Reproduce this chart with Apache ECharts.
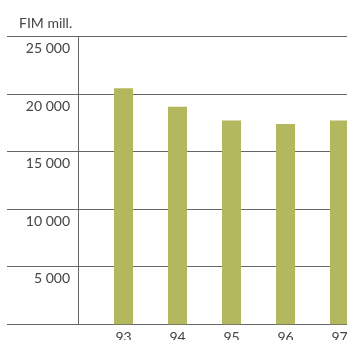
<!DOCTYPE html>
<html><head><meta charset="utf-8">
<script src="https://cdn.jsdelivr.net/npm/echarts@6/dist/echarts.min.js"></script>
<style>html,body{margin:0;padding:0;background:#fff}#c{width:347px;height:340px}</style>
</head><body><div id="c"></div>
<script>
const categories = ['93', '94', '95', '96', '97'];
const values = [20500, 18900, 17700, 17400, 17700];
const yTicks = [0, 5000, 10000, 15000, 20000, 25000];
const unitLabel = 'FIM mill.';

const font = 'Lato, "Open Sans", sans-serif';
const chart = echarts.init(document.getElementById('c'), null, {renderer: 'canvas'});
const fmt = v => v === 0 ? '' : String(v).replace(/\B(?=(\d{3})+(?!\d))/g, ' ');
chart.setOption({
  animation: false,
  title: {text: unitLabel, left: 14, top: 11, textStyle: {fontFamily: font, fontSize: 14, fontWeight: 'normal', color: '#444'}},
  grid: [
    {left: 7, width: 340, top: 36.5, height: 287.8, outerBoundsMode: 'none', containLabel: false},
    {left: 96.5, width: 270, top: 36.5, height: 287.8, outerBoundsMode: 'none', containLabel: false}
  ],
  xAxis: [
    {gridIndex: 0, type: 'value', show: false, min: 0, max: 1},
    {gridIndex: 1, type: 'category', data: categories, axisLine: {show: false}, axisTick: {show: false},
     axisLabel: {margin: 6, fontFamily: font, fontSize: 14, color: '#444'}}
  ],
  yAxis: [
    {gridIndex: 0, type: 'value', min: yTicks[0], max: yTicks[yTicks.length - 1], interval: yTicks[1] - yTicks[0],
     offset: -71,
     axisLine: {show: true, lineStyle: {color: '#666', width: 1}},
     axisTick: {show: false},
     splitLine: {show: true, lineStyle: {color: '#666', width: 1}},
     axisLabel: {margin: 8, formatter: fmt, verticalAlign: 'top', padding: [5, 0, 0, 0], fontFamily: font, fontSize: 14, color: '#444'}},
    {gridIndex: 1, type: 'value', show: false, min: yTicks[0], max: yTicks[yTicks.length - 1]}
  ],
  series: [{
    type: 'bar', xAxisIndex: 1, yAxisIndex: 1, data: values, barWidth: 19,
    itemStyle: {color: '#b3b85e'}, z: 5
  }]
});
</script></body></html>
